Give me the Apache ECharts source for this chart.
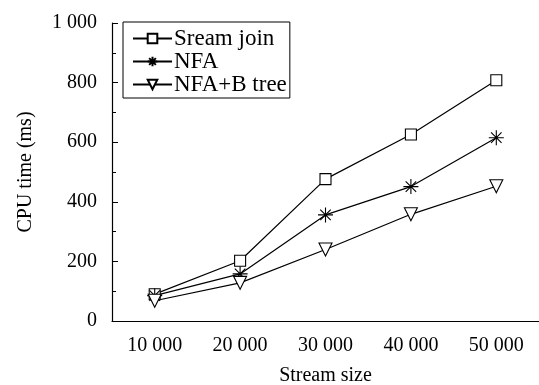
<!DOCTYPE html>
<html>
<head>
<meta charset="utf-8">
<script src="https://cdn.jsdelivr.net/npm/echarts@6/dist/echarts.min.js"></script>
<style>html,body{margin:0;padding:0;background:#fff}#c{width:539px;height:385px}</style>
</head>
<body>
<div id="c"></div>
<script>
var categories = ['10 000', '20 000', '30 000', '40 000', '50 000'];
var streamJoin = [90, 202, 476, 626, 808];
var nfa = [85, 158, 356, 451, 615];
var nfaBTree = [68, 128, 240, 358, 452];
var yTicks = [0, 200, 400, 600, 800, 1000];

var FONT = '"Liberation Serif", "Times New Roman", serif';
var starPath = 'path://M10,0L10,20M0,10L20,10M3,3L17,17M3,17L17,3';

var chart = echarts.init(document.getElementById('c'));
function mkSeries(name, data, symbol, size, rot) {
  return {
    name: name, type: 'line', data: data,
    symbol: symbol, symbolSize: size, symbolRotate: rot || 0,
    showAllSymbol: true,
    lineStyle: { color: '#000', width: 1.2 },
    itemStyle: { color: '#fff', borderColor: '#000', borderWidth: 1.1 },
    emphasis: { disabled: true },
    animation: false, z: 3
  };
}
chart.setOption({
  animation: false,
  textStyle: { fontFamily: FONT, color: '#000' },
  grid: { left: 112, right: 0, top: 23, bottom: 64, containLabel: false, outerBoundsMode: 'none' },
  legend: {
    orient: 'vertical', left: 123, top: 22,
    data: ['Sream join', 'NFA', 'NFA+B tree'],
    itemWidth: 39, itemHeight: 12, itemGap: 0,
    padding: [5, 3, 2, 9],
    borderColor: '#000', borderWidth: 1,
    textStyle: { fontFamily: FONT, fontSize: 23, color: '#000', padding: [0, 0, 0, -3] },
    selectedMode: false
  },
  xAxis: [{
    type: 'category', data: categories, boundaryGap: true,
    name: 'Stream size', nameLocation: 'middle', nameGap: 45,
    nameTextStyle: { fontFamily: FONT, fontSize: 20, color: '#000' },
    axisLine: { lineStyle: { color: '#000', width: 1.2 } },
    axisTick: { alignWithLabel: true, inside: true, length: 6, lineStyle: { color: '#000' } },
    axisLabel: { fontFamily: FONT, fontSize: 20, color: '#000', margin: 15 },
    splitLine: { show: false }
  }, {
    type: 'category', data: categories, boundaryGap: true, position: 'bottom',
    axisLine: { show: false },
    axisTick: { alignWithLabel: false, inside: true, length: 4, lineStyle: { color: '#000' } },
    axisLabel: { show: false },
    splitLine: { show: false }
  }],
  yAxis: {
    type: 'value', min: yTicks[0], max: yTicks[yTicks.length - 1], interval: 200,
    name: 'CPU time (ms)', nameLocation: 'middle', nameGap: 76,
    nameTextStyle: { fontFamily: FONT, fontSize: 20, color: '#000' },
    axisLine: { show: true, lineStyle: { color: '#000', width: 1.2 } },
    axisTick: { show: true, inside: true, length: 6, lineStyle: { color: '#000' } },
    minorTick: { show: true, splitNumber: 2, length: 4, lineStyle: { color: '#000' } },
    axisLabel: {
      fontFamily: FONT, fontSize: 20, color: '#000', margin: 15,
      formatter: function (v) { return String(v).replace(/\B(?=(\d{3})+(?!\d))/g, ' '); }
    },
    splitLine: { show: false }
  },
  series: [
    mkSeries('Sream join', streamJoin, 'rect', 11),
    mkSeries('NFA', nfa, starPath, 15),
    mkSeries('NFA+B tree', nfaBTree, 'triangle', 13, 180)
  ]
});
</script>
</body>
</html>
